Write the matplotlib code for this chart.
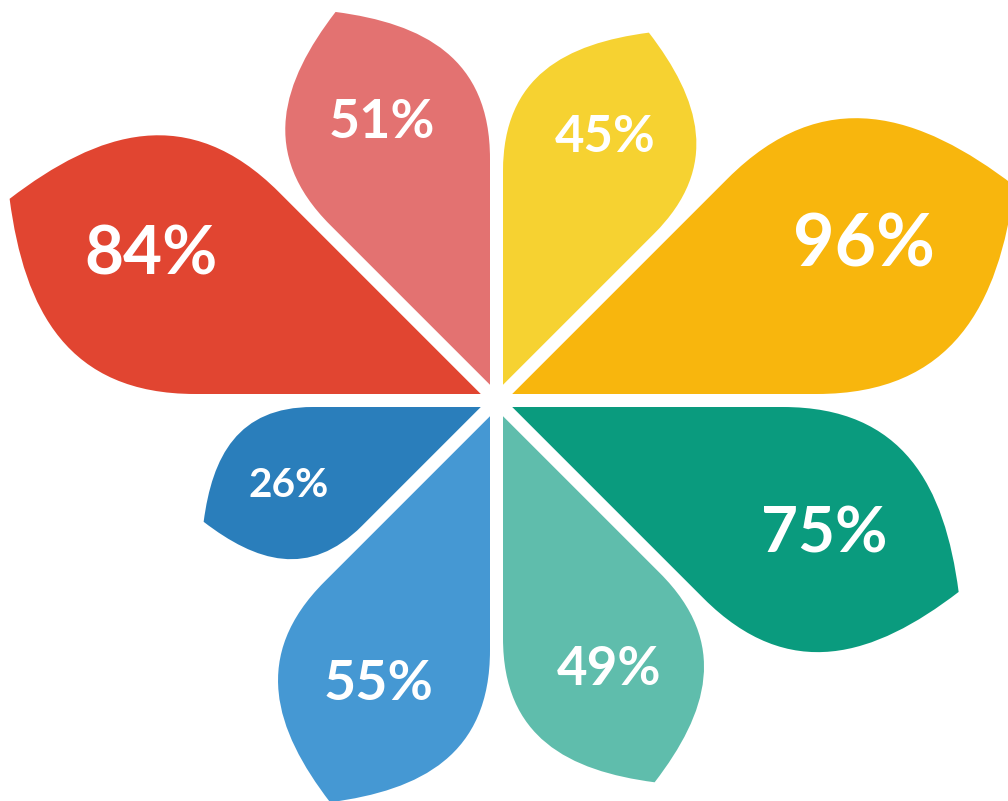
import numpy as np
import matplotlib
matplotlib.use('Agg')
import matplotlib.pyplot as plt
from matplotlib.path import Path
from matplotlib.patches import PathPatch

# ---- data (clockwise from top) ----
labels = ['45%', '96%', '75%', '49%', '55%', '26%', '84%', '51%']
values = [45, 96, 75, 49, 55, 26, 84, 51]
colors = ['#F6D231', '#F8B60D', '#0A9B7E', '#5FBDAC',
          '#4598D3', '#2A7EBB', '#E14531', '#E37271']

# ---- figure ----
W, H = 1008, 801
fig = plt.figure(figsize=(W / 100, H / 100), dpi=100)
ax = fig.add_axes([0, 0, 1, 1])
ax.set_xlim(0, W)
ax.set_ylim(0, H)
ax.axis('off')

cx, cy = 496.5, 400.5          # flower centre (pixels, y up)
r0, k = 145.0, 3056.0          # radial scale: tip distance = sqrt(r0^2 + k*value)
gap = 17.0                      # shift of each petal along its axis
alpha = np.deg2rad(22.5)


def petal_path(R):
    s = 0.56 * R
    c1 = 0.25 * R
    c2 = 0.22 * R
    ua = np.array([np.cos(alpha), np.sin(alpha)])
    ub = np.array([np.cos(alpha), -np.sin(alpha)])
    T = np.array([R, 0.0])
    A_cw = s * ub
    A_ccw = s * ua
    d_cw = np.array([0.5, np.sqrt(3) / 2])
    d_ccw = np.array([0.5, -np.sqrt(3) / 2])
    verts = [
        (0, 0),
        tuple(A_cw),
        tuple(A_cw + c1 * ub), tuple(T - c2 * d_cw), tuple(T),
        tuple(T - c2 * d_ccw), tuple(A_ccw + c1 * ua), tuple(A_ccw),
        (0, 0),
    ]
    codes = [Path.MOVETO, Path.LINETO,
             Path.CURVE4, Path.CURVE4, Path.CURVE4,
             Path.CURVE4, Path.CURVE4, Path.CURVE4,
             Path.CLOSEPOLY]
    return np.array(verts), codes


for i, (lab, v, col) in enumerate(zip(labels, values, colors)):
    theta = np.deg2rad(67.5 - 45 * i)
    D = np.sqrt(r0 ** 2 + k * v)
    R = D - gap
    verts, codes = petal_path(R)
    rot = np.array([[np.cos(theta), -np.sin(theta)],
                    [np.sin(theta), np.cos(theta)]])
    pts = verts @ rot.T + np.array([cx + gap * np.cos(theta),
                                    cy + gap * np.sin(theta)])
    ax.add_patch(PathPatch(Path(pts, codes), facecolor=col,
                           edgecolor='none', zorder=1))
    fs = 0.092 * D
    lx = cx + 0.71 * D * np.cos(theta)
    ly = cy + 0.71 * D * np.sin(theta)
    ax.text(lx, ly - 0.25 * fs * 100 / 72, lab, color='white',
            fontsize=fs, fontweight='bold', family=['Lato', 'DejaVu Sans'],
            ha='center', va='baseline', zorder=2)

fig.savefig('out.png', dpi=100)
